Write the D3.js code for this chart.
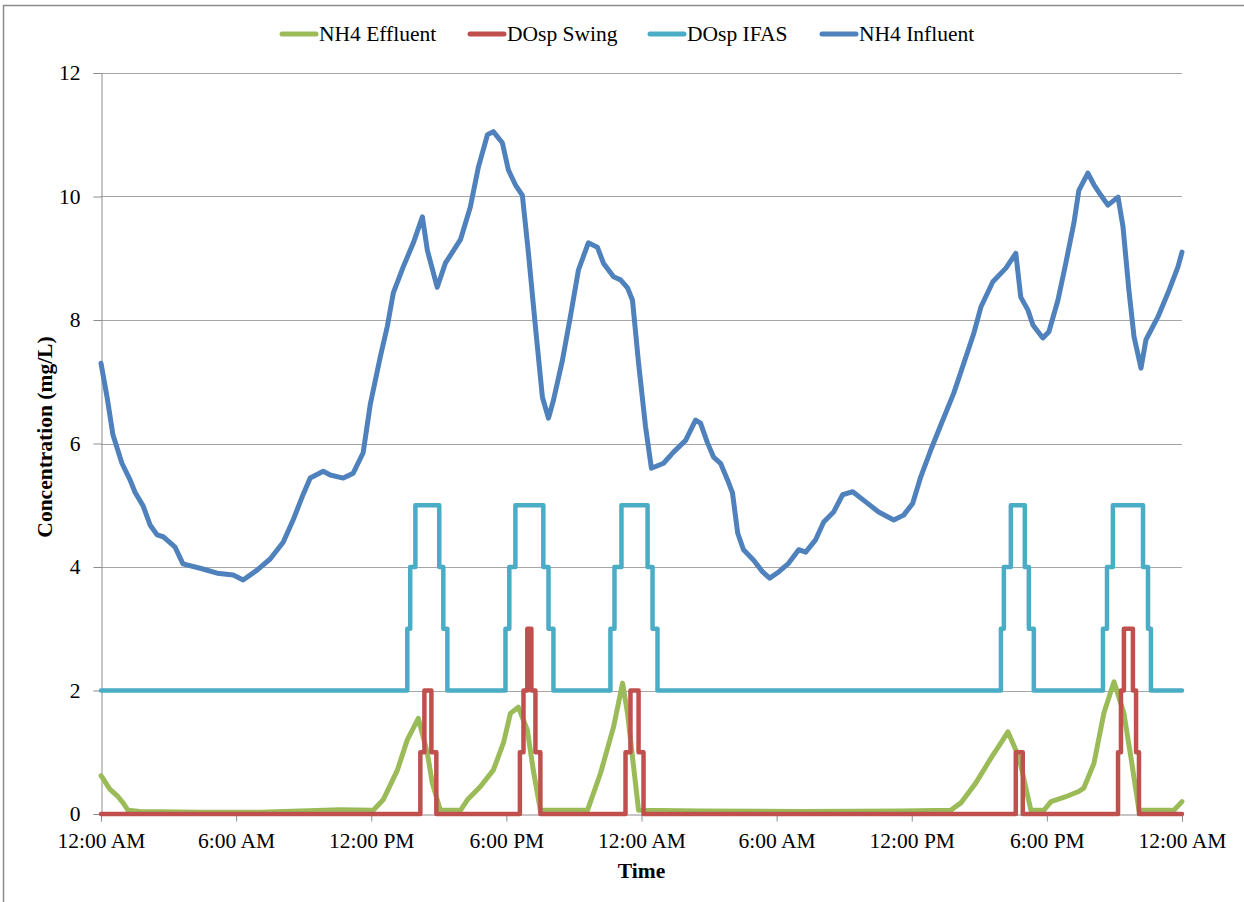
<!DOCTYPE html>
<html>
<head>
<meta charset="utf-8">
<script src="https://cdn.jsdelivr.net/npm/d3@7"></script>
<style>
  body { margin: 0; background: #fff; }
  svg { display: block; }
</style>
</head>
<body>
<svg id="chart" width="1244" height="902"></svg>
<script>
// hours since start of record, value in mg/L
const nh4Influent = [
  [0, 7.30], [0.27, 6.75], [0.53, 6.14], [0.93, 5.68], [1.29, 5.41], [1.51, 5.21], [1.87, 4.99],
  [2.18, 4.68], [2.49, 4.52], [2.76, 4.49], [3.29, 4.32], [3.64, 4.05], [4.40, 3.98], [5.16, 3.90],
  [5.87, 3.87], [6.31, 3.79], [6.93, 3.95], [7.51, 4.13], [8.09, 4.40], [8.53, 4.76], [8.98, 5.18],
  [9.29, 5.44], [9.87, 5.55], [10.18, 5.49], [10.76, 5.44], [11.20, 5.52], [11.64, 5.85], [11.96, 6.64],
  [12.40, 7.40], [12.71, 7.89], [12.98, 8.44], [13.42, 8.86], [13.87, 9.25], [14.27, 9.67], [14.49, 9.13],
  [14.93, 8.53], [15.29, 8.92], [15.96, 9.30], [16.40, 9.83], [16.76, 10.48], [17.16, 11.00], [17.42, 11.05],
  [17.82, 10.87], [18.09, 10.43], [18.40, 10.19], [18.71, 10.02], [18.98, 9.08], [19.29, 7.89], [19.60, 6.75],
  [19.87, 6.41], [20.09, 6.70], [20.49, 7.35], [20.84, 8.05], [21.20, 8.81], [21.64, 9.25], [22.04, 9.18],
  [22.31, 8.92], [22.76, 8.70], [23.07, 8.65], [23.38, 8.52], [23.60, 8.32], [23.87, 7.30], [24.18, 6.27],
  [24.44, 5.60], [24.98, 5.68], [25.42, 5.86], [25.96, 6.05], [26.40, 6.38], [26.62, 6.33], [26.93, 6.01],
  [27.20, 5.78], [27.51, 5.68], [27.82, 5.41], [28.04, 5.20], [28.27, 4.55], [28.53, 4.28], [28.98, 4.11],
  [29.38, 3.92], [29.69, 3.82], [30.09, 3.92], [30.53, 4.06], [30.98, 4.28], [31.29, 4.24], [31.73, 4.44],
  [32.09, 4.73], [32.53, 4.89], [32.93, 5.17], [33.38, 5.22], [34.04, 5.03], [34.53, 4.89], [35.20, 4.76],
  [35.64, 4.84], [36.04, 5.03], [36.40, 5.46], [36.84, 5.89], [37.29, 6.30], [37.87, 6.82], [38.31, 7.30],
  [38.76, 7.79], [39.07, 8.21], [39.60, 8.62], [40.18, 8.84], [40.62, 9.08], [40.84, 8.37], [41.16, 8.16],
  [41.38, 7.92], [41.82, 7.71], [42.09, 7.81], [42.49, 8.32], [42.84, 8.92], [43.20, 9.57], [43.42, 10.10],
  [43.82, 10.38], [44.09, 10.19], [44.40, 10.02], [44.71, 9.86], [45.16, 9.99], [45.38, 9.51], [45.64, 8.49],
  [45.87, 7.73], [46.18, 7.22], [46.40, 7.68], [46.93, 8.05], [47.38, 8.44], [47.82, 8.86], [48, 9.10]
]

const nh4Effluent = [
  [0, 0.62], [0.40, 0.40], [0.76, 0.28], [0.98, 0.18], [1.20, 0.06], [1.73, 0.04], [4.40, 0.03],
  [7.07, 0.03], [8.84, 0.05], [10.62, 0.07], [12.09, 0.06], [12.53, 0.23], [13.16, 0.71], [13.60, 1.20],
  [14.09, 1.55], [14.49, 0.99], [14.71, 0.50], [15.07, 0.06], [15.96, 0.06], [16.27, 0.23], [16.84, 0.44],
  [17.42, 0.71], [17.87, 1.15], [18.18, 1.63], [18.53, 1.73], [18.93, 1.36], [19.20, 0.70], [19.51, 0.06],
  [21.60, 0.06], [22.18, 0.66], [22.76, 1.41], [23.16, 2.12], [23.38, 1.63], [23.60, 0.92], [23.87, 0.06],
  [26.62, 0.05], [31.07, 0.04], [35.51, 0.05], [37.73, 0.06], [38.18, 0.18], [38.84, 0.50], [39.51, 0.90],
  [39.96, 1.15], [40.27, 1.33], [40.76, 0.92], [41.29, 0.06], [41.87, 0.06], [42.18, 0.20], [42.84, 0.28],
  [43.38, 0.36], [43.64, 0.42], [44.09, 0.82], [44.53, 1.63], [44.98, 2.14], [45.42, 1.63], [45.73, 0.92],
  [46.09, 0.06], [47.64, 0.06], [48, 0.20]
]

// set point steps: [hour of change, new value]
const doSwing = [
  [0, 0], [14.18, 1], [14.36, 2], [14.67, 1], [14.89, 0],
  [18.60, 1], [18.76, 2], [18.93, 3], [19.11, 2], [19.29, 1], [19.51, 0],
  [23.29, 1], [23.51, 2], [23.87, 1], [24.09, 0],
  [40.62, 1], [40.93, 0],
  [45.16, 1], [45.29, 2], [45.42, 3], [45.82, 2], [45.96, 1], [46.09, 0], [48, 0]
]

const doIfas = [
  [0, 2], [13.60, 3], [13.73, 4], [13.96, 5], [15.02, 4], [15.20, 3], [15.38, 2],
  [17.96, 3], [18.13, 4], [18.40, 5], [19.64, 4], [19.87, 3], [20.09, 2],
  [22.62, 3], [22.80, 4], [23.11, 5], [24.27, 4], [24.49, 3], [24.71, 2],
  [39.96, 3], [40.09, 4], [40.40, 5], [41.02, 4], [41.20, 3], [41.42, 2],
  [44.49, 3], [44.67, 4], [44.93, 5], [46.27, 4], [46.49, 3], [46.62, 2], [48, 2]
]

const xTicks = [0, 6, 12, 18, 24, 30, 36, 42, 48]
const xTickLabels = ["12:00 AM", "6:00 AM", "12:00 PM", "6:00 PM", "12:00 AM", "6:00 AM", "12:00 PM", "6:00 PM", "12:00 AM"]
const yTicks = [0, 2, 4, 6, 8, 10, 12]

const series = [
  {name: "NH4 Effluent", data: nh4Effluent, color: "#9bbb59", step: false, w: 5},
  {name: "DOsp Swing", data: doSwing, color: "#c0504d", step: true, w: 4.5},
  {name: "DOsp IFAS", data: doIfas, color: "#4bacc6", step: true, w: 4.5},
  {name: "NH4 Influent", data: nh4Influent, color: "#4f81bd", step: false, w: 5},
]

const font = "Liberation Serif, Times New Roman, serif"
const fontSize = 21.5

const svg = d3.select("#chart")
    .attr("font-family", font)
const margin = {left: 101, right: 62, top: 73, bottom: 88}
const width = 1244, height = 902

const x = d3.scaleLinear().domain([0, 48]).range([margin.left, width - margin.right])
const y = d3.scaleLinear().domain([0, 12]).range([height - margin.bottom, margin.top])

// outer chart frame
svg.append("rect")
    .attr("x", 3.5).attr("y", 5.5)
    .attr("width", 1300).attr("height", 950)
    .attr("fill", "none").attr("stroke", "#8c8c8c").attr("stroke-width", 1.5)

// gridlines
svg.append("g")
    .selectAll("line")
    .data(yTicks.filter(d => d > 0))
    .join("line")
    .attr("x1", x(0)).attr("x2", x(48))
    .attr("y1", d => Math.round(y(d)) + 0.5).attr("y2", d => Math.round(y(d)) + 0.5)
    .attr("stroke", "#a6a6a6").attr("stroke-width", 1)

const yAxis = svg.append("g")
    .attr("transform", `translate(${Math.round(x(0)) + 0.5},0)`)
    .call(d3.axisLeft(y).tickValues(yTicks).tickSize(8).tickPadding(13).tickFormat(d3.format("d")))
yAxis.select(".domain").attr("stroke", "#8c8c8c")
yAxis.selectAll(".tick line").attr("stroke", "#8c8c8c")
yAxis.selectAll("text").attr("font-size", fontSize).attr("fill", "#000").attr("font-family", font)

const xAxis = svg.append("g")
    .attr("transform", `translate(0,${Math.round(y(0)) + 0.5})`)
    .call(d3.axisBottom(x).tickValues(xTicks).tickSize(7).tickPadding(11)
        .tickFormat((d, i) => xTickLabels[i]))
xAxis.select(".domain").attr("stroke", "#8c8c8c")
xAxis.selectAll(".tick line").attr("stroke", "#8c8c8c")
xAxis.selectAll("text").attr("font-size", fontSize).attr("fill", "#000").attr("font-family", font)

const lineFor = s => d3.line()
    .x(d => x(d[0]))
    .y(d => y(d[1]))
    .curve(s.step ? d3.curveStepAfter : d3.curveLinear)

const drawOrder = [series[3], series[2], series[0], series[1]]
svg.append("g")
    .selectAll("path")
    .data(drawOrder)
    .join("path")
    .attr("d", s => lineFor(s)(s.data))
    .attr("fill", "none")
    .attr("stroke", s => s.color)
    .attr("stroke-width", s => s.w)
    .attr("stroke-linejoin", "round")
    .attr("stroke-linecap", "round")

// axis titles
svg.append("text")
    .attr("x", (x(0) + x(48)) / 2).attr("y", 878)
    .attr("text-anchor", "middle")
    .attr("font-size", fontSize).attr("font-weight", "bold")
    .text("Time")

svg.append("text")
    .attr("transform", `translate(52,437) rotate(-90)`)
    .attr("text-anchor", "middle")
    .attr("font-size", fontSize).attr("font-weight", "bold")
    .text("Concentration (mg/L)")

// legend
const legendX = [280, 468, 648, 820]
const legend = svg.append("g")
    .selectAll("g")
    .data(series)
    .join("g")
    .attr("transform", (d, i) => `translate(${legendX[i]},34)`)
legend.append("line")
    .attr("x1", 2).attr("x2", 36)
    .attr("stroke", d => d.color).attr("stroke-width", 5)
    .attr("stroke-linecap", "round")
legend.append("text")
    .attr("x", 39).attr("dy", "0.33em")
    .attr("font-size", fontSize)
    .text(d => d.name)
</script>
</body>
</html>
